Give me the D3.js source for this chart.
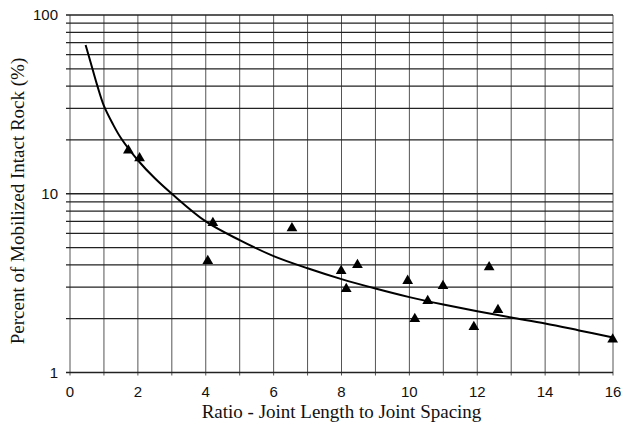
<!DOCTYPE html>
<html>
<head>
<meta charset="utf-8">
<script src="https://cdn.jsdelivr.net/npm/d3@7"></script>
<style>
    body { margin: 0; background: #fff; }
    .tick-label { font-family: "Liberation Sans", Arial, sans-serif; font-size: 15px; fill: #111; }
    .axis-title { font-family: "Liberation Serif", "Times New Roman", serif; font-size: 19px; fill: #111; }
</style>
</head>
<body>
<svg id="chart" width="621" height="428"></svg>
<script>
// observed points: ratio joint length / joint spacing vs % mobilized intact rock
const ratioX = [1.72, 2.05, 4.06, 4.21, 6.54, 7.99, 8.14, 8.47, 9.95, 10.16, 10.54, 10.99, 11.9, 12.35, 12.61, 15.99];
const percentY = [17.7, 16.0, 4.26, 6.95, 6.5, 3.75, 2.97, 4.05, 3.3, 2.02, 2.55, 3.09, 1.82, 3.93, 2.27, 1.55];

// fitted curve
const curveX = [0.46, 0.6, 0.8, 1, 1.25, 1.5, 2, 2.5, 3, 4, 5, 6, 7, 8, 9, 10, 11, 12, 13, 14, 15, 16];
const curveY = [68, 55, 40.5, 31, 24.8, 20.5, 15.4, 12.2, 10, 7.0, 5.5, 4.48, 3.83, 3.33, 2.95, 2.64, 2.4, 2.2, 2.03, 1.88, 1.72, 1.57];

const xTicks = [0, 2, 4, 6, 8, 10, 12, 14, 16];
const yTicks = [1, 10, 100];

const plotLeft = 70, plotRight = 613, plotTop = 15, plotBottom = 372.5;

const x = d3.scaleLinear().domain([0, 16]).range([plotLeft, plotRight]);
const y = d3.scaleLog().domain([1, 100]).range([plotBottom, plotTop]);

const svg = d3.select("#chart");

// horizontal grid (1..9 per decade)
const hLines = [];
for (let dec = 1; dec <= 10; dec *= 10) {
    for (let m = 1; m <= 9; m++) hLines.push(dec * m);
}
hLines.push(100);

// vertical grid every unit
svg.append("g")
    .selectAll("line")
    .data(d3.range(0, 17))
    .join("line")
    .attr("x1", d => x(d)).attr("x2", d => x(d))
    .attr("y1", plotTop).attr("y2", plotBottom + 3)
    .attr("stroke", "#555")
    .attr("stroke-width", 1);

svg.append("g")
    .selectAll("line")
    .data(hLines)
    .join("line")
    .attr("x1", plotLeft - 4).attr("x2", plotRight)
    .attr("y1", d => y(d)).attr("y2", d => y(d))
    .attr("stroke", "#222")
    .attr("stroke-width", 1.3);

// tick labels
svg.append("g")
    .selectAll("text")
    .data(xTicks)
    .join("text")
    .attr("class", "tick-label")
    .attr("x", d => x(d))
    .attr("y", 397)
    .attr("text-anchor", "middle")
    .text(d => d);

svg.append("g")
    .selectAll("text")
    .data(yTicks)
    .join("text")
    .attr("class", "tick-label")
    .attr("x", plotLeft - 12)
    .attr("y", d => y(d) + 5)
    .attr("text-anchor", "end")
    .text(d => d);

// fitted curve
const line = d3.line()
    .x(d => x(d[0]))
    .y(d => y(d[1]))
    .curve(d3.curveCatmullRom.alpha(0.5));

svg.append("path")
    .datum(curveX.map((v, i) => [v, curveY[i]]))
    .attr("d", line)
    .attr("fill", "none")
    .attr("stroke", "#000")
    .attr("stroke-width", 2);

// triangles
svg.append("g")
    .selectAll("path")
    .data(ratioX.map((v, i) => [v, percentY[i]]))
    .join("path")
    .attr("transform", d => `translate(${x(d[0])},${y(d[1]) + 1})`)
    .attr("d", d3.symbol(d3.symbolTriangle, 50))
    .attr("fill", "#000");

// axis titles
svg.append("text")
    .attr("class", "axis-title")
    .attr("x", (plotLeft + plotRight) / 2)
    .attr("y", 418)
    .attr("text-anchor", "middle")
    .text("Ratio - Joint Length to Joint Spacing");

svg.append("text")
    .attr("class", "axis-title")
    .attr("transform", `translate(24,201) rotate(-90)`)
    .attr("text-anchor", "middle")
    .text("Percent of Mobilized Intact Rock (%)");
</script>
</body>
</html>
